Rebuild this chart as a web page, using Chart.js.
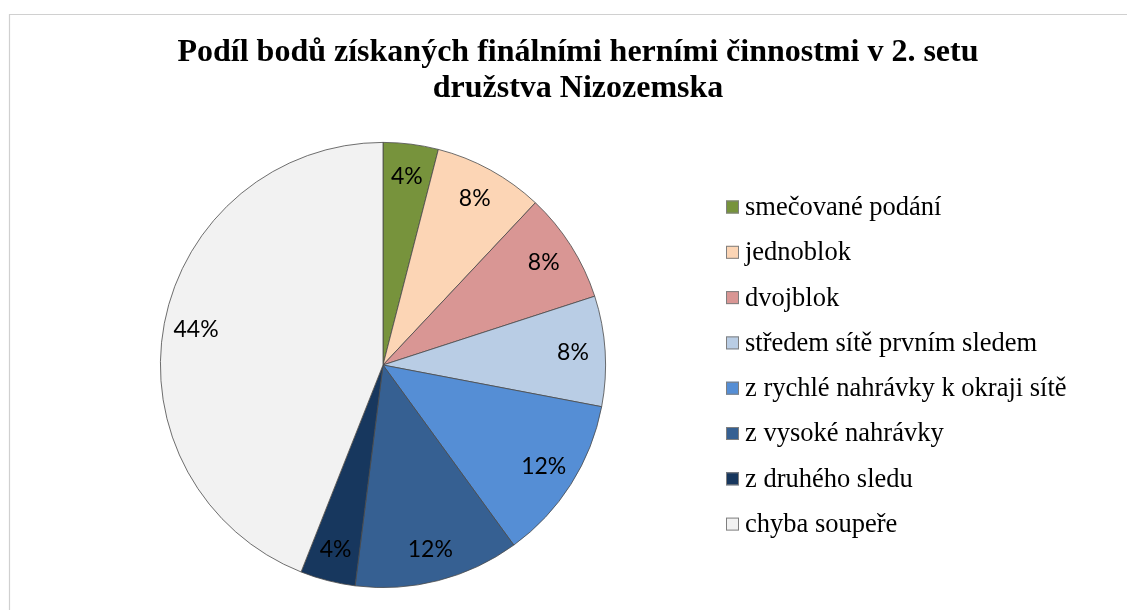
<!DOCTYPE html>
<html>
<head>
<meta charset="utf-8">
<script src="https://cdn.jsdelivr.net/npm/chart.js@4/dist/chart.umd.min.js"></script>
<style>
html,body{margin:0;padding:0;background:#fff;}
#wrap{position:relative;width:1127px;height:610px;}
</style>
</head>
<body>
<div id="wrap"><canvas id="c" width="1127" height="610"></canvas></div>
<script>
const titleLines = ["Podíl bodů získaných finálními herními činnostmi v 2. setu", "družstva Nizozemska"];
const categories = ["smečované podání", "jednoblok", "dvojblok", "středem sítě prvním sledem", "z rychlé nahrávky k okraji sítě", "z vysoké nahrávky", "z druhého sledu", "chyba soupeře"];
const points = [1, 2, 2, 2, 3, 3, 1, 11];
const percentLabels = ["4%", "8%", "8%", "8%", "12%", "12%", "4%", "44%"];
const colors = ["#77933C", "#FCD5B5", "#D99694", "#B9CDE5", "#558ED5", "#366092", "#17375E", "#F2F2F2"];

const framePlugin = {
  id: 'frame',
  beforeDraw(chart) {
    const ctx = chart.ctx;
    ctx.save();
    ctx.fillStyle = '#fff';
    ctx.fillRect(0, 0, chart.width, chart.height);
    ctx.strokeStyle = '#d0d0d0';
    ctx.lineWidth = 1.2;
    ctx.beginPath();
    ctx.moveTo(9.5, 610);
    ctx.lineTo(9.5, 14.5);
    ctx.lineTo(1127, 14.5);
    ctx.stroke();
    ctx.restore();
  },
  afterDraw(chart) {
    const ctx = chart.ctx;
    ctx.save();
    // title
    ctx.fillStyle = '#000';
    ctx.font = 'bold 32px "Liberation Serif", "Times New Roman", serif';
    ctx.textAlign = 'center';
    ctx.textBaseline = 'middle';
    ctx.fillText(titleLines[0], 578, 53);
    ctx.fillText(titleLines[1], 578, 89);
    // slice labels
    const meta = chart.getDatasetMeta(0);
    ctx.font = '23px Lato, "Open Sans", sans-serif';
    meta.data.forEach((arc, i) => {
      const p = arc.getProps(['x', 'y', 'startAngle', 'endAngle', 'outerRadius'], true);
      const mid = (p.startAngle + p.endAngle) / 2;
      const r = p.outerRadius * 0.855;
      ctx.fillText(percentLabels[i], p.x + Math.cos(mid) * r, p.y + Math.sin(mid) * r);
    });
    // legend
    ctx.font = '26.5px "Liberation Serif", "Times New Roman", serif';
    ctx.textAlign = 'left';
    categories.forEach((lab, i) => {
      const cy = 207 + i * 45.3;
      ctx.fillStyle = colors[i];
      ctx.fillRect(726, cy - 6.5, 13, 13);
      ctx.strokeStyle = '#7f7f7f';
      ctx.lineWidth = 1;
      ctx.strokeRect(726.5, cy - 6, 12, 12);
      ctx.fillStyle = '#000';
      ctx.fillText(lab, 745, cy + 1);
    });
    ctx.restore();
  }
};

new Chart(document.getElementById('c'), {
  type: 'pie',
  data: {
    labels: categories,
    datasets: [{
      data: points,
      backgroundColor: colors,
      borderColor: '#4a4a4a',
      borderWidth: 0.8
    }]
  },
  options: {
    responsive: false,
    animation: false,
    layout: { padding: { left: 160, right: 521, top: 142, bottom: 22 } },
    plugins: {
      legend: { display: false },
      title: { display: false },
      tooltip: { enabled: false }
    }
  },
  plugins: [framePlugin]
});
</script>
</body>
</html>
